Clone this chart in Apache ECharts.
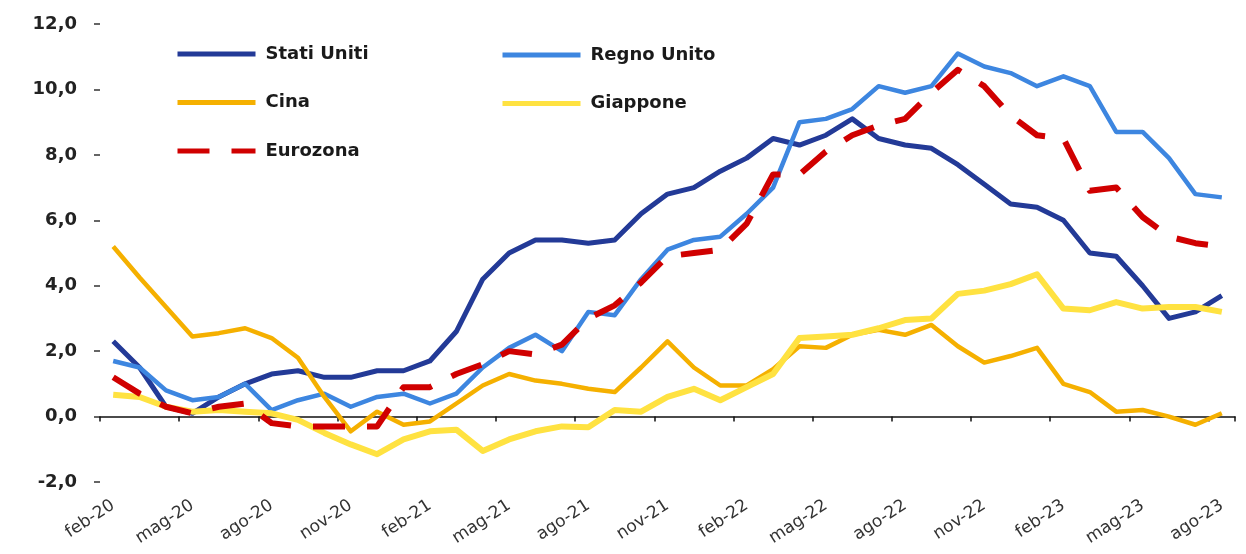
<!DOCTYPE html>
<html>
<head>
<meta charset="utf-8">
<script src="https://cdn.jsdelivr.net/npm/echarts@6/dist/echarts.min.js"></script>
<style>
html,body{margin:0;padding:0;background:#fff;}
#c{width:1246px;height:554px;}
</style>
</head>
<body>
<div id="c"></div>
<script>
const categories = ['feb-20','mar-20','apr-20','mag-20','giu-20','lug-20','ago-20','set-20','ott-20','nov-20','dic-20',
  'gen-21','feb-21','mar-21','apr-21','mag-21','giu-21','lug-21','ago-21','set-21','ott-21','nov-21','dic-21',
  'gen-22','feb-22','mar-22','apr-22','mag-22','giu-22','lug-22','ago-22','set-22','ott-22','nov-22','dic-22',
  'gen-23','feb-23','mar-23','apr-23','mag-23','giu-23','lug-23','ago-23'];

const statiUniti = [2.3,1.5,0.3,0.1,0.6,1.0,1.3,1.4,1.2,1.2,1.4,
  1.4,1.7,2.6,4.2,5.0,5.4,5.4,5.3,5.4,6.2,6.8,7.0,
  7.5,7.9,8.5,8.3,8.6,9.1,8.5,8.3,8.2,7.7,7.1,6.5,
  6.4,6.0,5.0,4.9,4.0,3.0,3.2,3.7];

const regnoUnito = [1.7,1.5,0.8,0.5,0.6,1.0,0.2,0.5,0.7,0.3,0.6,
  0.7,0.4,0.7,1.5,2.1,2.5,2.0,3.2,3.1,4.2,5.1,5.4,
  5.5,6.2,7.0,9.0,9.1,9.4,10.1,9.9,10.1,11.1,10.7,10.5,
  10.1,10.4,10.1,8.7,8.7,7.9,6.8,6.7];

const cina = [5.2,4.25,3.35,2.45,2.55,2.7,2.4,1.8,0.6,-0.45,0.15,
  -0.25,-0.15,0.4,0.95,1.3,1.1,1.0,0.85,0.75,1.5,2.3,1.5,
  0.95,0.95,1.45,2.15,2.1,2.5,2.65,2.5,2.8,2.15,1.65,1.85,
  2.1,1.0,0.75,0.15,0.2,0.0,-0.25,0.1];

const giappone = [0.67,0.6,0.3,0.15,0.2,0.15,0.1,-0.1,-0.5,-0.85,-1.15,
  -0.7,-0.45,-0.4,-1.05,-0.7,-0.45,-0.3,-0.33,0.2,0.15,0.6,0.85,
  0.5,0.9,1.3,2.4,2.45,2.5,2.7,2.95,3.0,3.75,3.85,4.05,
  4.35,3.3,3.25,3.5,3.3,3.35,3.35,3.2];

const eurozona = [1.2,0.7,0.3,0.1,0.3,0.4,-0.2,-0.3,-0.3,-0.3,-0.3,
  0.9,0.9,1.3,1.6,2.0,1.9,2.2,3.0,3.4,4.1,4.9,5.0,
  5.1,5.9,7.4,7.4,8.1,8.6,8.9,9.1,9.9,10.6,10.1,9.2,
  8.6,8.5,6.9,7.0,6.1,5.5,5.3,5.2];

const yTicks = {min:-2, max:12, interval:2};

const chart = echarts.init(document.getElementById('c'), null, {renderer:'canvas'});
const legendText = {fontFamily:'DejaVu Sans', fontWeight:'bold', fontSize:18, color:'#1a1a1a',
  lineHeight:18, padding:[0,0,0,5]};
function ser(name, data, color, width, type){
  return {name, type:'line', data, symbol:'none', showSymbol:false, smooth:false,
    xAxisIndex:0, yAxisIndex:0, animation:false,
    lineStyle:{color, width, type:type||'solid', join:'round', cap:'butt'},
    itemStyle:{color}};
}
const legendCommon = {orient:'vertical', itemWidth:78, itemHeight:18, itemGap:30.5, padding:0,
  textStyle:legendText, selectedMode:false,
  itemStyle:{opacity:0, borderWidth:0},
  lineStyle:{width:5, opacity:1}};
chart.setOption({
  backgroundColor:'#ffffff',
  animation:false,
  grid:{left:100, right:11, top:24, bottom:72, containLabel:false},
  legend:[
    Object.assign({data:['Stati Uniti','Cina','Eurozona'], left:175, top:45}, legendCommon),
    Object.assign({data:['Regno Unito','Giappone'], left:500, top:46}, legendCommon)
  ],
  xAxis:[
    {type:'category', data:categories, boundaryGap:true,
     axisLine:{show:true, onZero:true, lineStyle:{color:'#111', width:1.5}},
     axisTick:{show:true, interval:2, length:5, inside:false, lineStyle:{color:'#111', width:1.5}},
     axisLabel:{show:false}, splitLine:{show:false}},
    {type:'category', data:categories, boundaryGap:true, position:'bottom',
     axisLine:{show:false, onZero:false}, axisTick:{show:false},
     axisLabel:{show:true, interval:2, rotate:33, margin:22,
       fontFamily:'DejaVu Sans', fontSize:17, color:'#333'},
     splitLine:{show:false}}
  ],
  yAxis:{type:'value', min:yTicks.min, max:yTicks.max, interval:yTicks.interval,
    axisLine:{show:false},
    axisTick:{show:true, length:6, inside:false, lineStyle:{color:'#333', width:1.5}},
    splitLine:{show:false},
    axisLabel:{margin:23, fontFamily:'DejaVu Sans', fontWeight:'bold', fontSize:18, color:'#222',
      formatter:function(v){return v.toFixed(1).replace('.', ',');}}
  },
  series:[
    ser('Stati Uniti', statiUniti, '#233A97', 5),
    ser('Regno Unito', regnoUnito, '#3D86E0', 4.5),
    ser('Cina', cina, '#F5B000', 4.5),
    ser('Giappone', giappone, '#FFE241', 6),
    ser('Eurozona', eurozona, '#D00000', 6, [32,22])
  ]
});
</script>
</body>
</html>
